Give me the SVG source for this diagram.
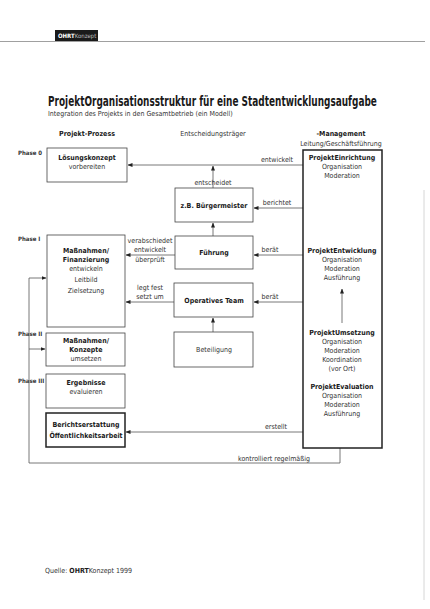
<svg xmlns="http://www.w3.org/2000/svg" width="430" height="609" viewBox="0 0 430 609">
<defs>
<marker id="ah" viewBox="0 0 10 10" refX="9" refY="5" markerWidth="5" markerHeight="5" orient="auto-start-reverse" markerUnits="userSpaceOnUse">
<path d="M0,1 L10,5 L0,9 Z" fill="#222"/>
</marker>
<style>
text{font-family:"DejaVu Sans Condensed","Liberation Sans Narrow","Liberation Sans",sans-serif;font-stretch:condensed;fill:#333;}
.b{font-weight:bold;fill:#1a1a1a;}
.s{font-size:7px;}
.m{text-anchor:middle;}
.ph{font-size:6px;font-weight:bold;fill:#333;}
.box{fill:#fff;stroke:#444;stroke-width:0.8;}
.thick{fill:#fff;stroke:#222;stroke-width:1.5;}
.c{fill:none;stroke:#555;stroke-width:0.8;}
</style>
</defs>
<rect width="430" height="609" fill="#fff"/>
<!-- header -->
<rect x="55" y="30" width="43" height="11" fill="#1a1a1a"/>
<text x="58" y="38" font-size="6" style="fill:#fff;font-weight:bold">OHRT<tspan style="font-weight:normal;fill:#bbb">Konzept</tspan></text>
<line x1="0" y1="41.5" x2="425" y2="41.5" stroke="#888" stroke-width="0.8"/>
<line x1="424" y1="190" x2="424" y2="600" stroke="#ccc" stroke-width="0.8"/>
<!-- title -->
<text x="0" y="0" transform="translate(48,106) scale(0.736,1)" class="b" style="font-size:13.5px">ProjektOrganisationsstruktur für eine Stadtentwicklungsaufgabe</text>
<text x="48" y="116" font-size="7">Integration des Projekts in den Gesamtbetrieb (ein Modell)</text>
<!-- column headers -->
<text x="87" y="136" class="s m b">Projekt-Prozess</text>
<text x="213" y="136" class="s m">Entscheidungsträger</text>
<text x="341" y="136" class="s m b">-Management</text>
<text x="341" y="146" class="s m">Leitung/Geschäftsführung</text>
<!-- phases -->
<text x="18" y="155" class="ph">Phase 0</text>
<text x="18" y="241" class="ph">Phase I</text>
<text x="18" y="336" class="ph">Phase II</text>
<text x="18" y="383" class="ph">Phase III</text>
<!-- connectors -->
<g id="connectors">
<line class="c" x1="303" y1="165" x2="128" y2="165" marker-end="url(#ah)"/>
<line class="c" x1="213" y1="188" x2="213" y2="166" marker-end="url(#ah)"/>
<line class="c" x1="303" y1="208" x2="254" y2="208" marker-end="url(#ah)"/>
<line class="c" x1="213" y1="236" x2="213" y2="223" marker-end="url(#ah)"/>
<line class="c" x1="303" y1="255" x2="254" y2="255" marker-end="url(#ah)"/>
<line class="c" x1="175" y1="255" x2="126" y2="255" marker-end="url(#ah)"/>
<line class="c" x1="174" y1="302" x2="126" y2="302" marker-end="url(#ah)"/>
<line class="c" x1="303" y1="302" x2="254" y2="302" marker-end="url(#ah)"/>
<line class="c" x1="213" y1="332" x2="213" y2="318" marker-end="url(#ah)"/>
<line class="c" x1="303" y1="432" x2="126" y2="432" marker-end="url(#ah)"/>
<path class="c" d="M340,448 V463 H29 V278 H46" marker-end="url(#ah)"/>
<path class="c" d="M29,349 H45" marker-end="url(#ah)"/>
<text x="277" y="162" class="s m">entwickelt</text>
<text x="213" y="185" class="s m">entscheidet</text>
<text x="277" y="205" class="s m">berichtet</text>
<text x="270" y="252" class="s m">berät</text>
<text x="270" y="299" class="s m">berät</text>
<text x="150" y="243" class="s m">verabschiedet</text>
<text x="150" y="252" class="s m">entwickelt</text>
<text x="150" y="262" class="s m">überprüft</text>
<text x="150" y="290" class="s m">legt fest</text>
<text x="150" y="299" class="s m">setzt um</text>
<text x="276" y="429" class="s m">erstellt</text>
<text x="274" y="461" class="s m">kontrolliert regelmäßig</text>
</g>
<!-- nodes -->
<g id="loesungskonzept">
<rect class="box" x="47" y="148" width="80" height="34"/>
<text x="87" y="160" class="s m b">Lösungskonzept</text>
<text x="87" y="169" class="s m">vorbereiten</text>
</g>
<g id="buergermeister">
<rect class="box" x="175" y="188" width="78" height="34"/>
<text x="214" y="208" class="s m b">z.B. Bürgermeister</text>
</g>
<g id="fuehrung">
<rect class="box" x="175" y="236" width="78" height="33"/>
<text x="214" y="255" class="s m b">Führung</text>
</g>
<g id="operatives-team">
<rect class="box" x="174" y="283" width="79" height="34"/>
<text x="214" y="303" class="s m b">Operatives Team</text>
</g>
<g id="beteiligung">
<rect class="box" x="174" y="332" width="79" height="35"/>
<text x="214" y="352" class="s m">Beteiligung</text>
</g>
<g id="massnahmen-finanzierung">
<rect class="box" x="47" y="235" width="78" height="92"/>
<text x="86" y="253" class="s m b">Maßnahmen/</text>
<text x="86" y="262" class="s m b">Finanzierung</text>
<text x="86" y="271" class="s m">entwickeln</text>
<text x="86" y="282" class="s m">Leitbild</text>
<text x="86" y="293" class="s m">Zielsetzung</text>
</g>
<g id="massnahmen-konzepte">
<rect class="box" x="46" y="333" width="79" height="33"/>
<text x="86" y="343" class="s m b">Maßnahmen/</text>
<text x="86" y="352" class="s m b">Konzepte</text>
<text x="86" y="361" class="s m">umsetzen</text>
</g>
<g id="ergebnisse">
<rect class="box" x="46" y="374" width="79" height="34"/>
<text x="86" y="385" class="s m b">Ergebnisse</text>
<text x="86" y="394" class="s m">evaluieren</text>
</g>
<g id="berichtserstattung">
<rect class="thick" x="46" y="413" width="79" height="34"/>
<text x="86" y="427" class="s m b">Berichtserstattung</text>
<text x="86" y="438" class="s m b">Öffentlichkeitsarbeit</text>
</g>
<g id="management">
<rect class="thick" x="303" y="150" width="79" height="298"/>
<text x="342" y="160" class="s m b">ProjektEinrichtung</text>
<text x="342" y="169" class="s m">Organisation</text>
<text x="342" y="178" class="s m">Moderation</text>
<text x="342" y="253" class="s m b">ProjektEntwicklung</text>
<text x="342" y="262" class="s m">Organisation</text>
<text x="342" y="271" class="s m">Moderation</text>
<text x="342" y="280" class="s m">Ausführung</text>
<line class="c" x1="342" y1="323" x2="342" y2="289" marker-end="url(#ah)"/>
<text x="342" y="335" class="s m b">ProjektUmsetzung</text>
<text x="342" y="344" class="s m">Organisation</text>
<text x="342" y="353" class="s m">Moderation</text>
<text x="342" y="362" class="s m">Koordination</text>
<text x="342" y="371" class="s m">(vor Ort)</text>
<text x="342" y="389" class="s m b">ProjektEvaluation</text>
<text x="342" y="398" class="s m">Organisation</text>
<text x="342" y="407" class="s m">Moderation</text>
<text x="342" y="416" class="s m">Ausführung</text>
</g>
<text x="45" y="573" class="s">Quelle: <tspan class="b">OHRT</tspan>Konzept 1999</text>
</svg>
